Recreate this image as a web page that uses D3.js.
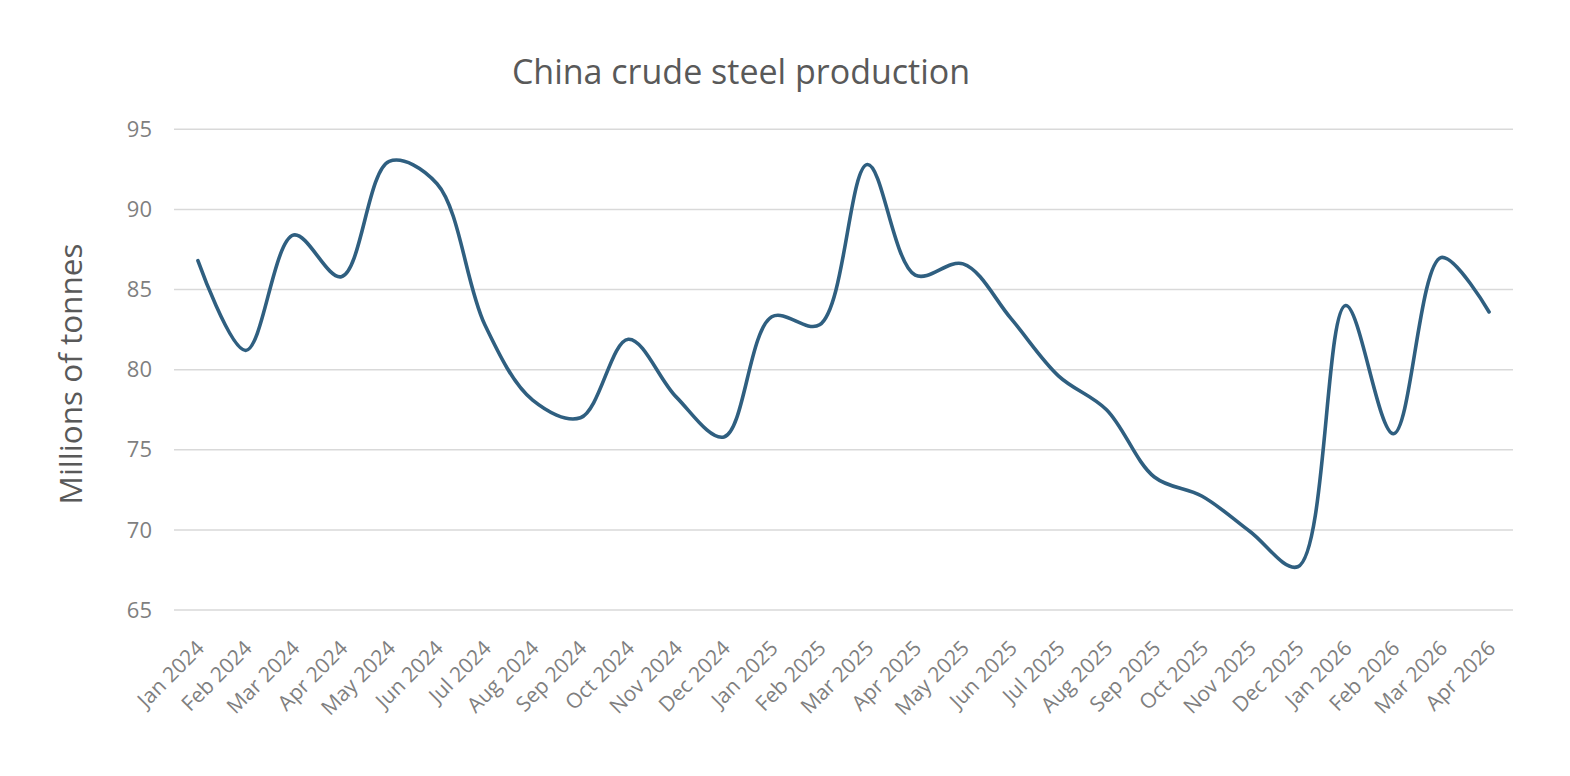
<!DOCTYPE html>
<html><head><meta charset="utf-8">
<script src="https://cdn.jsdelivr.net/npm/d3@7"></script>
<style>
html,body{margin:0;padding:0;background:#fff;}
svg{display:block;}
</style></head>
<body>
<svg id="chart" width="1570" height="776"></svg>
<script>
const months = ["Jan 2024","Feb 2024","Mar 2024","Apr 2024","May 2024","Jun 2024","Jul 2024","Aug 2024","Sep 2024","Oct 2024","Nov 2024","Dec 2024",
"Jan 2025","Feb 2025","Mar 2025","Apr 2025","May 2025","Jun 2025","Jul 2025","Aug 2025","Sep 2025","Oct 2025","Nov 2025","Dec 2025",
"Jan 2026","Feb 2026","Mar 2026","Apr 2026"];
const production = [86.8,81.2,88.4,85.8,93.0,91.6,82.8,78.1,77.0,81.9,78.3,75.8,
83.3,82.8,92.8,85.9,86.6,83.2,79.6,77.5,73.3,72.1,69.9,67.7,
84.0,76.0,87.0,83.6];
const yTicks = [65,70,75,80,85,90,95];
const title = "China crude steel production";
const yTitle = "Millions of tonnes";

const svg = d3.select("#chart");
const x = d3.scalePoint().domain(months).range([174,1513]).padding(0.5);
const y = d3.scaleLinear().domain([65,95]).range([610,129.3]);

// gridlines
svg.append("g").selectAll("line").data(yTicks).join("line")
  .attr("x1",174).attr("x2",1513)
  .attr("y1",d=>y(d)).attr("y2",d=>y(d))
  .attr("stroke","#d9d9d9").attr("stroke-width",1.5);

// y tick labels
svg.append("g").selectAll("text").data(yTicks).join("text")
  .attr("x",152).attr("y",d=>y(d)).attr("dy","0.35em")
  .attr("text-anchor","end")
  .attr("font-family","Open Sans, sans-serif").attr("font-size",22)
  .attr("fill","#7f7f7f").text(d=>d);

// x tick labels
svg.append("g").selectAll("text").data(months).join("text")
  .attr("transform",d=>`translate(${x(d)-3},${639}) rotate(-45)`)
  .attr("text-anchor","end").attr("dy","0.71em")
  .attr("font-family","Open Sans, sans-serif").attr("font-size",21)
  .attr("fill","#7f7f7f").text(d=>d);

// line
const line = d3.line().x((d,i)=>x(months[i])).y(d=>y(d)).curve(d3.curveCatmullRom.alpha(0.5));
svg.append("path").datum(production)
  .attr("d",line).attr("fill","none")
  .attr("stroke","#2f5f80").attr("stroke-width",3.6)
  .attr("stroke-linecap","round").attr("stroke-linejoin","round");

// title
svg.append("text").attr("x",741).attr("y",84).attr("text-anchor","middle")
  .attr("font-family","Open Sans, sans-serif").attr("font-size",34)
  .attr("fill","#595959").text(title);

// y title
svg.append("text").attr("transform","translate(82,374) rotate(-90)")
  .attr("text-anchor","middle")
  .attr("font-family","Open Sans, sans-serif").attr("font-size",31.5)
  .attr("fill","#595959").text(yTitle);
</script>
</body></html>
